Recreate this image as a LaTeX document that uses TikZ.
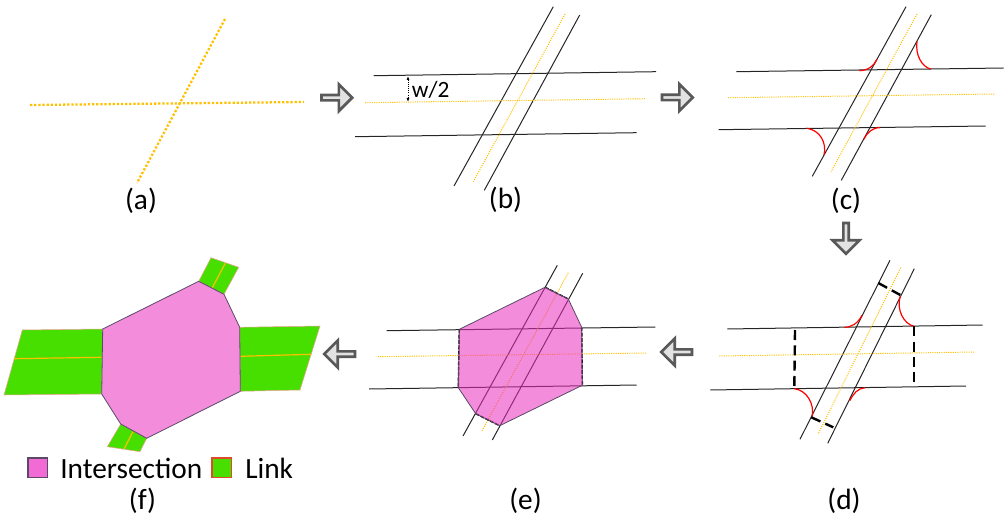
\documentclass[tikz,border=0pt]{standalone}
\usepackage{fontspec}
\setmainfont{Carlito}
\usetikzlibrary{arrows.meta, shapes.arrows}
\definecolor{centerline}{HTML}{FFC000}
\definecolor{blockfill}{HTML}{E2E2E2}
\definecolor{blockedge}{HTML}{595959}
\definecolor{zonepink}{HTML}{EB2EBF}
\definecolor{zoneflat}{HTML}{F48CDC}
\definecolor{zonekey}{HTML}{F26AD3}
\definecolor{zoneedge}{HTML}{5A4A68}
\definecolor{linkgreen}{HTML}{46DF00}
\definecolor{linkedge}{HTML}{DE4A2A}

\begin{document}
\begin{tikzpicture}[
		x=0.75pt, y=-0.75pt,
		road/.style={draw=black!85, line width=0.75pt},
		center/.style={draw=centerline, line width=0.75pt, dash pattern=on 0.8pt off 0.9pt},
		widecenter/.style={draw=centerline, line width=1.7pt, dash pattern=on 1.7pt off 1.4pt},
		curb/.style={draw=red, line width=0.9pt},
		cut/.style={draw=black, line width=1.8pt, dash pattern=on 7.5pt off 4pt},
		thincut/.style={draw=black, line width=1.1pt, dash pattern=on 3pt off 1pt},
		blockarrow/.style={draw=blockedge, fill=blockfill, line width=2pt, single arrow, single arrow head extend=4pt, minimum width=20pt, minimum height=23pt, inner sep=0pt, anchor=center},
		panel/.style={font=\fontsize{22}{24}\selectfont, inner sep=0pt},
		zone/.style={draw=zoneedge, line width=0.6pt, fill=zonepink, fill opacity=0.55},
		solidzone/.style={draw=zoneedge, line width=0.6pt, fill=zoneflat},
		link/.style={draw=linkedge!50, line width=0.4pt, fill=linkgreen},
		linkcenter/.style={draw=centerline, line width=0.9pt},
		keybox/.style={line width=1.2pt, minimum size=14.5pt, inner sep=0pt}
		]
		\useasboundingbox (0,0) rectangle (1006,527);

		% Panel a
		\draw[widecenter] (30,105) -- (304,102);
		\draw[widecenter] (225,19) -- (137,183);
		\node[panel] (a) at (141,201) {(a)};

		% Panel b
		\draw[road] (373.7,75.7) -- (656,71.7);
		\draw[road] (355,136.7) -- (636.7,132.7);
		\draw[road] (553.3,6.7) -- (454,186);
		\draw[road] (579.7,15) -- (484.3,190.3);
		\draw[center] (365,102.7) -- (646,98.7);
		\draw[center] (565,14) -- (473.3,181.7);
		\coordinate (wtop) at (408,76);
		\coordinate (wbot) at (408,102);
		\draw[{Latex[length=3pt]}-{Latex[length=3pt]}, densely dotted, line width=0.6pt] (wtop) -- (wbot);
		\node[font=\fontsize{17.5}{20}\selectfont, inner sep=0pt] (width) at (430.7,90) {w/2};
		\node[panel] (b) at (505.5,200) {(b)};

		% Panel c
		\draw[road] (736.3,71.7) -- (1003.7,68);
		\draw[road] (718.7,129.7) -- (985.7,126);
		\draw[road] (906,6.7) -- (812.3,176.3);
		\draw[road] (931.3,14.7) -- (841.3,180.3);
		\draw[center] (728,97.7) -- (994.3,94);
		\draw[center] (917,14) -- (831,171.7);
		\draw[curb] (859.3,70.7) .. controls (868,70.5) and (874,66) .. (877,59.3);
		\draw[curb] (917,41.3) .. controls (915,55) and (922,67) .. (930.7,69);
		\draw[curb] (806.7,128.3) .. controls (820,130) and (827,143) .. (824,155);
		\draw[curb] (880,127.7) .. controls (872,127.5) and (867,133) .. (863.7,139.3);
		\node[panel] (c) at (846,201) {(c)};

		% Panel d
		\draw[road] (727.3,329) -- (982.7,325);
		\draw[road] (710.3,390) -- (966,386);
		\draw[road] (890,260.3) -- (800,439.3);
		\draw[road] (914.3,268.7) -- (827.7,443.3);
		\draw[center] (719.3,356) -- (974.7,352);
		\draw[center] (900.7,267.7) -- (818,434.3);
		\draw[curb] (844.3,327.3) .. controls (852,327.3) and (858,323) .. (862,315.3);
		\draw[curb] (900.3,296) .. controls (896,310) and (904,324) .. (914,326.3);
		\draw[curb] (794.3,388.7) .. controls (806,390) and (815,403) .. (812,417.3);
		\draw[curb] (865,387.7) .. controls (858,388) and (853,394) .. (849.7,400.7);
		\draw[cut] (795,330) -- (794.3,388.7);
		\draw[cut] (914,326.3) -- (914,386.7);
		\draw[cut] (878.3,283) -- (900.3,295);
		\draw[cut] (811.3,417.3) -- (833.3,427.3);
		\node[panel] (d) at (844,501) {(d)};

		% Panel e
		\draw[road] (386.7,330.7) -- (655.3,327);
		\draw[road] (369,389) -- (636.7,385);
		\draw[road] (557.3,265.3) -- (463,436);
		\draw[road] (582.7,273.3) -- (492.3,440);
		\draw[center] (377.7,356.7) -- (646,353);
		\draw[center] (568.3,272.7) -- (481.7,431.3);
		\draw[thincut] (459.3,329.3) -- (458.3,387.7);
		\draw[thincut] (581.7,327.3) -- (582.3,385.3);
		\draw[thincut] (545,287.3) -- (568.3,299);
		\draw[thincut] (475.7,413.7) -- (499.7,425.7);
		\path[zone] (459.3,329.3) -- (545,287.3) -- (568.3,299) -- (581.7,327.3) -- (582.3,385.3) -- (499.7,425.7) -- (475.7,413.7) -- (458.3,387.7) -- cycle;
		\node[panel] (e) at (525.5,501) {(e)};

		% Panel f
		\path[link] (22.3,330) -- (102.7,329) -- (101.7,394) -- (4,395) -- cycle;
		\path[link] (239.7,327.3) -- (320,326) -- (300,390) -- (240.3,391.3) -- cycle;
		\path[link] (198.7,281.3) -- (211,257.7) -- (238.7,267.3) -- (224,294.3) -- cycle;
		\path[link] (120.7,424) -- (146.7,438.3) -- (140,451.7) -- (107.3,446.7) -- cycle;
		\draw[linkcenter] (14,358.7) -- (101.3,357.3);
		\draw[linkcenter] (240.3,356.3) -- (311.3,354.3);
		\draw[linkcenter] (225.3,263.3) -- (212.3,287.7);
		\draw[linkcenter] (133,431.7) -- (124,449);
		\path[solidzone] (102.7,329) -- (198.7,281.3) -- (224,294.3) -- (239.7,327.3) -- (240.3,391.3) -- (146.7,438.3) -- (120.7,424) -- (101.7,394) -- cycle;
		\node[panel] (f) at (142.5,501) {(f)};

		% Legend
		\node[keybox, draw=zoneedge, fill=zonekey] (intbox) at (37.7,467.7) {};
		\node[panel, anchor=west] (inttext) at (60,468) {Intersection};
		\node[keybox, draw=linkedge, fill=linkgreen] (linkbox) at (221.7,467.7) {};
		\node[panel, anchor=west] (linktext) at (245,468) {Link};

		% Arrows
		\node[blockarrow] (ab) at (335.5,97.7) {};
		\node[blockarrow] (bc) at (676,97.5) {};
		\node[blockarrow, rotate=-90] (cd) at (846,237) {};
		\node[blockarrow, rotate=180] (de) at (678,352) {};
		\node[blockarrow, rotate=180] (ef) at (341,354) {};
	\end{tikzpicture}
\end{document}
